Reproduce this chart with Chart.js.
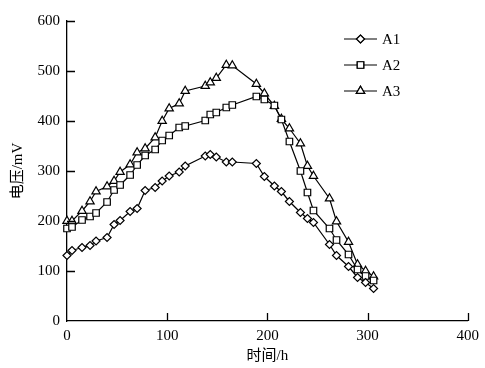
<!DOCTYPE html>
<html>
<head>
<meta charset="utf-8">
<script src="https://cdn.jsdelivr.net/npm/chart.js@4.4.1/dist/chart.umd.min.js"></script>
<style>
  html, body { margin: 0; padding: 0; background: #fff; }
  #wrap { position: relative; width: 485px; height: 368px; }
</style>
</head>
<body>
<div id="wrap"><canvas id="c" width="485" height="368"></canvas></div>
<script>
// time (h)
const hours = [0, 5, 15, 23, 29, 40, 47, 53, 63, 70, 78, 88, 95, 102, 112, 118, 138, 143, 149, 159, 165,
               189, 197, 207, 214, 222, 233, 240, 246, 262, 269, 281, 290, 298, 306]

// voltage (mV)
const a1 = [131, 141, 147, 151, 160, 167, 193, 201, 219, 225, 261, 267, 280, 290, 298, 310, 330, 333, 328, 318, 318,
            315, 289, 270, 259, 239, 217, 205, 197, 153, 131, 109, 87, 77, 65]
const a2 = [185, 188, 202, 209, 216, 238, 262, 272, 292, 312, 331, 343, 361, 371, 387, 390, 401, 413, 417, 427, 432,
            449, 443, 431, 403, 359, 300, 257, 221, 185, 162, 133, 103, 90, 81]
const a3 = [200, 200, 220, 239, 259, 269, 280, 298, 313, 337, 345, 367, 400, 425, 435, 460, 470, 477, 486, 512, 511,
            474, 455, 430, 404, 385, 355, 310, 290, 245, 199, 158, 113, 100, 89]

const seriesNames = ['A1', 'A2', 'A3']
const xTicks = [0, 100, 200, 300, 400]
const yTicks = [0, 100, 200, 300, 400, 500, 600]

const FONT = "'Liberation Serif', 'Times New Roman', 'Noto Sans CJK SC', serif"

function toPoints(vals) {
    return vals.map((v, i) => ({ x: hours[i], y: v }))
}

const styles = [
    { pointStyle: 'rectRot', radius: 4 },
    { pointStyle: 'rect', radius: 4.6 },
    { pointStyle: 'triangle', radius: 4.8 }
]

const datasets = [a1, a2, a3].map((vals, i) => ({
    label: seriesNames[i],
    data: toPoints(vals),
    borderColor: '#000',
    borderWidth: 1.2,
    backgroundColor: '#fff',
    pointBackgroundColor: '#fff',
    pointBorderColor: '#000',
    pointBorderWidth: 1.2,
    pointStyle: styles[i].pointStyle,
    pointRadius: styles[i].radius,
    tension: 0,
    fill: false,
    clip: false
}))

// inward ticks + legend drawn by hand
const decor = {
    id: 'decor',
    afterDraw(chart) {
        const ctx = chart.ctx
        const xs = chart.scales.x, ys = chart.scales.y
        const area = chart.chartArea
        ctx.save()
        ctx.strokeStyle = '#000'
        ctx.lineWidth = 1.3
        ctx.beginPath()
        xTicks.slice(1).forEach(v => {
            const px = Math.round(xs.getPixelForValue(v)) + 0.5
            ctx.moveTo(px, area.bottom)
            ctx.lineTo(px, area.bottom - 8)
        })
        yTicks.slice(1).forEach(v => {
            const py = Math.round(ys.getPixelForValue(v)) + 0.5
            ctx.moveTo(area.left, py)
            ctx.lineTo(area.left + 8, py)
        })
        ctx.stroke()

        // legend
        const lx0 = 344, lx1 = 377, ly = [39, 65, 91]
        ctx.font = '15px ' + FONT
        ctx.fillStyle = '#000'
        ctx.textBaseline = 'middle'
        ctx.textAlign = 'left'
        datasets.forEach((d, i) => {
            ctx.lineWidth = 1.2
            ctx.beginPath()
            ctx.moveTo(lx0, ly[i])
            ctx.lineTo(lx1, ly[i])
            ctx.stroke()
            ctx.fillStyle = '#fff'
            Chart.helpers.drawPoint(ctx, {
                pointStyle: d.pointStyle,
                radius: d.pointRadius,
                borderWidth: 1.2,
                rotation: 0
            }, (lx0 + lx1) / 2, ly[i])
            ctx.fill()
            ctx.stroke()
            ctx.fillStyle = '#000'
            ctx.fillText(d.label, 382, ly[i] + 1)
        })
        ctx.restore()
    }
}

new Chart(document.getElementById('c'), {
    type: 'line',
    data: { datasets: datasets },
    options: {
        responsive: false,
        animation: false,
        events: [],
        layout: { padding: { left: 0, right: 12, top: 21, bottom: 0 } },
        plugins: { legend: { display: false }, tooltip: { enabled: false } },
        scales: {
            x: {
                type: 'linear',
                min: 0,
                max: 400,
                afterBuildTicks: s => { s.ticks = xTicks.map(v => ({ value: v })) },
                afterFit: s => { s.height = 47 },
                grid: { display: true, drawOnChartArea: false, drawTicks: false },
                border: { color: '#000', width: 1.3 },
                ticks: { color: '#000', padding: 6, maxRotation: 0, font: { family: FONT, size: 15 } },
                title: { display: true, text: '时间/h', color: '#000', padding: { top: 0, bottom: 3 },
                         font: { family: FONT, size: 15 } }
            },
            y: {
                min: 0,
                max: 600,
                afterBuildTicks: s => { s.ticks = yTicks.map(v => ({ value: v })) },
                afterFit: s => { s.width = 67 },
                grid: { display: true, drawOnChartArea: false, drawTicks: false },
                border: { color: '#000', width: 1.3 },
                ticks: { color: '#000', padding: 7, font: { family: FONT, size: 15 } },
                title: { display: true, text: '电压/mV', color: '#000', padding: { top: 9, bottom: 0 },
                         font: { family: FONT, size: 15 } }
            }
        }
    },
    plugins: [decor]
})
</script>
</body>
</html>
